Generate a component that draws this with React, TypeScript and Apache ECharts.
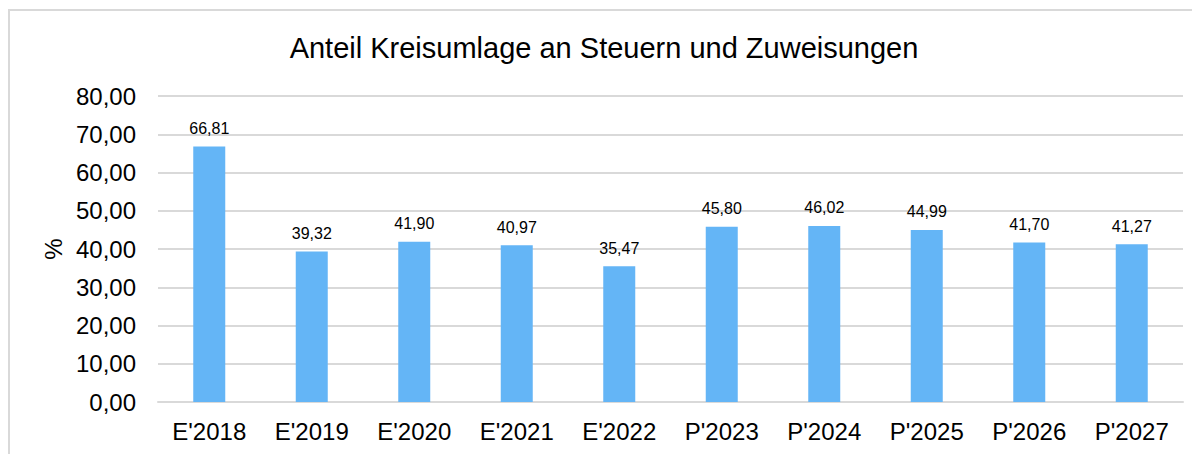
import React, { useEffect, useRef } from "react";
import * as echarts from "echarts";

const categories = ["E'2018", "E'2019", "E'2020", "E'2021", "E'2022", "P'2023", "P'2024", "P'2025", "P'2026", "P'2027"];
const values = [66.81, 39.32, 41.9, 40.97, 35.47, 45.8, 46.02, 44.99, 41.7, 41.27];
const titleText = "Anteil Kreisumlage an Steuern und Zuweisungen";
const yName = "%";

const fmt = (v: number) => v.toFixed(2).replace(".", ",");

export default function App() {
  const ref = useRef<HTMLDivElement>(null);
  useEffect(() => {
    if (!ref.current) return;
    const chart = echarts.init(ref.current, undefined, { renderer: "svg" });
    chart.setOption({
      animation: false,
      textStyle: { fontFamily: "Liberation Sans, Arial, sans-serif" },
      title: {
        text: titleText,
        left: "center",
        top: 20,
        textStyle: { fontSize: 29, fontWeight: "normal", color: "#000", fontFamily: "Liberation Sans, Arial, sans-serif" },
      },
      graphic: [
        {
          type: "rect",
          shape: { x: 1, y: 2, width: 3000, height: 3000 },
          style: { fill: "none", stroke: "#d9d9d9", lineWidth: 2 },
          silent: true,
        },
      ],
      grid: { left: 150, right: 17, top: 88, bottom: 52, containLabel: false },
      xAxis: {
        type: "category",
        data: categories,
        axisLine: { lineStyle: { color: "#d9d9d9", width: 2 } },
        axisTick: { show: false },
        axisLabel: { fontSize: 24, color: "#000", margin: 17 },
      },
      yAxis: {
        type: "value",
        min: 0,
        max: 80,
        interval: 10,
        name: yName,
        nameLocation: "middle",
        nameGap: 90,
        nameRotate: 90,
        nameTextStyle: { fontSize: 24, color: "#000" },
        axisLine: { show: false },
        axisTick: { show: false },
        axisLabel: { fontSize: 24, color: "#000", margin: 22, formatter: (v: number) => fmt(v) },
        splitLine: { lineStyle: { color: "#d9d9d9", width: 2 } },
      },
      series: [
        {
          type: "bar",
          data: values,
          barWidth: 32,
          itemStyle: { color: "#64b5f6" },
          label: {
            show: true,
            position: "top",
            distance: 10,
            fontSize: 16,
            color: "#000",
            formatter: (p: any) => fmt(p.value),
          },
        },
      ],
    });
    return () => chart.dispose();
  }, []);
  return <div ref={ref} style={{ width: 1192, height: 446 }} />;
}
